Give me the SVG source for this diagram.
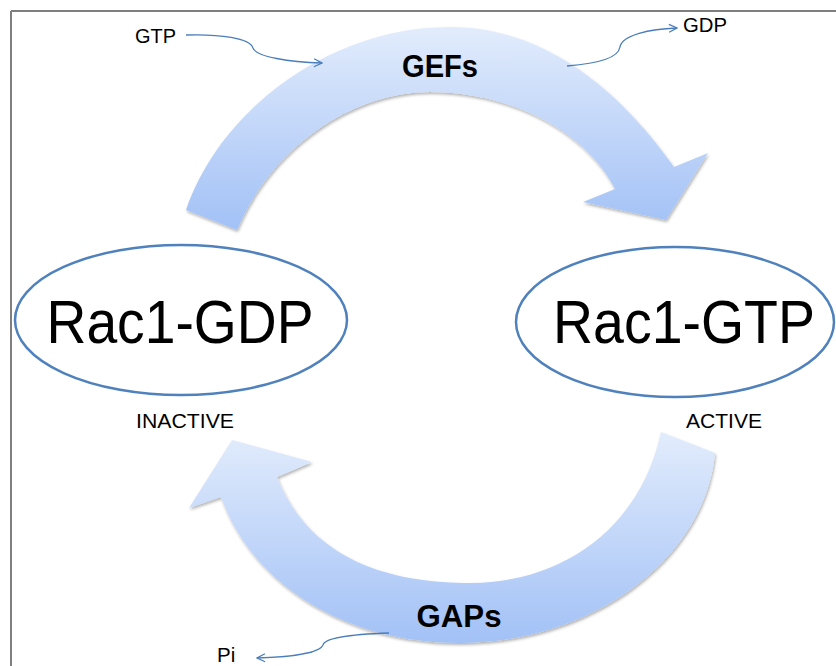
<svg xmlns="http://www.w3.org/2000/svg" width="836" height="666" viewBox="0 0 836 666">
<defs>
<linearGradient id="gTop" x1="0" y1="0" x2="0" y2="1">
<stop offset="0" stop-color="#e2ecfc"/>
<stop offset="1" stop-color="#a2c1f6"/>
</linearGradient>
<linearGradient id="gBot" x1="0" y1="0" x2="0" y2="1">
<stop offset="0" stop-color="#e2ecfc"/>
<stop offset="1" stop-color="#a2c1f6"/>
</linearGradient>
<filter id="sh" x="-10%" y="-10%" width="120%" height="130%">
<feDropShadow dx="1" dy="2" stdDeviation="1.8" flood-color="#000" flood-opacity="0.3"/>
</filter>
<marker id="open" viewBox="0 0 10 10" refX="9" refY="5" markerWidth="10" markerHeight="10" markerUnits="userSpaceOnUse" orient="auto">
<polyline points="1,1 9,5 1,9" fill="none" stroke="#4a7ebb" stroke-width="1.3"/>
</marker>
<style>
.ell{fill:#fff;stroke:#4f81bd;stroke-width:2.5}
.big{font-family:"Liberation Sans",Arial,sans-serif;font-size:61px;fill:#000}
.lbl{font-family:"Liberation Sans",Arial,sans-serif;font-size:20.5px;fill:#000}
.enz{font-family:"Liberation Sans",Arial,sans-serif;font-size:32px;font-weight:bold;fill:#000}
.thin{fill:none;stroke:#4a7ebb;stroke-width:1.3;marker-end:url(#open)}
.frame{stroke:#7f7f7f;stroke-width:2;fill:none}
</style>
</defs>
<rect width="836" height="666" fill="#fff"/>
<g id="frame">
<line class="frame" x1="11" y1="11" x2="836" y2="11"/>
<line class="frame" x1="11" y1="11" x2="11" y2="666"/>
</g>
<g id="gefs">
<path fill="url(#gTop)" filter="url(#sh)" d="M186,210 C220,110 330,27 450,27 C555,27 630,105 674,167 L708,153 L666,220 L583,202 L615,189 C585,130 510,92 430,92 C350,92 270,150 237,230 Z"/>
<text class="enz" x="440" y="77" text-anchor="middle" textLength="76" lengthAdjust="spacingAndGlyphs">GEFs</text>
</g>
<g id="gaps">
<path fill="url(#gBot)" filter="url(#sh)" d="M715,453 C705,560 590,643 460,643 C340,643 250,580 221,497 L189,508 L232,440 L312,462 L277,477 C310,560 390,583 470,583 C560,583 640,530 661,432 Z"/>
<text class="enz" x="459" y="627" text-anchor="middle" textLength="85" lengthAdjust="spacingAndGlyphs">GAPs</text>
</g>
<g id="rac1gdp">
<ellipse class="ell" cx="181" cy="320" rx="166" ry="75"/>
<text class="big" x="180" y="343" text-anchor="middle" textLength="267" lengthAdjust="spacingAndGlyphs">Rac1-GDP</text>
<text class="lbl" x="185" y="428" text-anchor="middle" textLength="98" lengthAdjust="spacingAndGlyphs">INACTIVE</text>
</g>
<g id="rac1gtp">
<ellipse class="ell" cx="675" cy="322" rx="159" ry="75"/>
<text class="big" x="553" y="343" textLength="262" lengthAdjust="spacingAndGlyphs">Rac1-GTP</text>
<text class="lbl" x="724" y="428" text-anchor="middle" textLength="76" lengthAdjust="spacingAndGlyphs">ACTIVE</text>
</g>
<g id="gtp"><text class="lbl" x="135" y="43" textLength="41" lengthAdjust="spacingAndGlyphs">GTP</text></g>
<g id="gdp"><text class="lbl" x="683" y="32" textLength="44" lengthAdjust="spacingAndGlyphs">GDP</text></g>
<g id="pi"><text class="lbl" x="217" y="662">Pi</text></g>
<g id="connectors">
<path class="thin" d="M186,35 C220,34 250,38 253,48 C256,57 290,62 322,63"/>
<path class="thin" d="M567,66 C600,63 618,58 620,47 C622,35 650,29 677,28"/>
<path class="thin" d="M389,633 C360,634 325,637 323,645 C320,653 290,657 257,658"/>
</g>
</svg>
